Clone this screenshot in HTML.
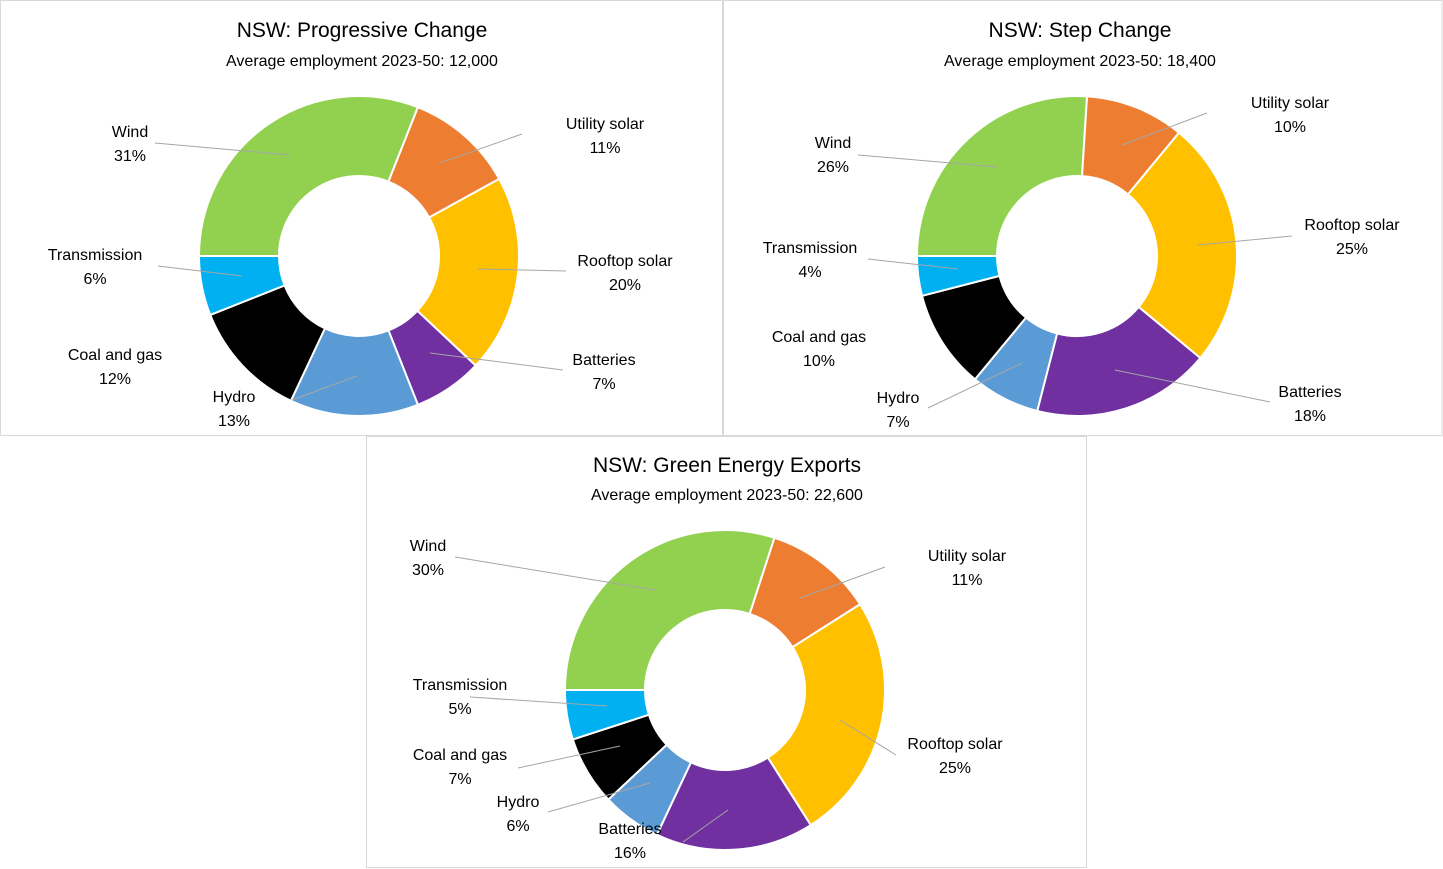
<!DOCTYPE html>
<html><head><meta charset="utf-8"><style>
html,body{margin:0;padding:0;background:#fff;}
svg{display:block;font-family:"Liberation Sans",Arial,sans-serif;}
</style></head><body>
<svg id="s" width="1443" height="869" viewBox="0 0 1443 869">
<rect x="0.5" y="0.5" width="722" height="435" fill="#fff" stroke="#d9d9d9"/>
<rect x="723.5" y="0.5" width="718.5" height="435" fill="#fff" stroke="#d9d9d9"/>
<rect x="366.5" y="436.5" width="720" height="431" fill="#fff" stroke="#d9d9d9"/>
</svg>
<script>
const categories=["Wind","Utility solar","Rooftop solar","Batteries","Hydro","Coal and gas","Transmission"];
const progressiveValues=[31,11,20,7,13,12,6];
const stepValues=[26,10,25,18,7,10,4];
const greenValues=[30,11,25,16,6,7,5];
const chartTitles=["NSW: Progressive Change","NSW: Step Change","NSW: Green Energy Exports"];
const chartSubtitles=["Average employment 2023-50: 12,000","Average employment 2023-50: 18,400","Average employment 2023-50: 22,600"];
const colors=["#92D050","#ED7D31","#FFC000","#7030A0","#5B9BD5","#000000","#00B0F0"];
const NS="http://www.w3.org/2000/svg";
const svg=document.getElementById('s');
const charts=[
 {vals:progressiveValues,cx:359,cy:256,tx:362,ty:29,sy:60,
  labels:[[130,143],[605,135],[625,272],[604,371],[234,408],[115,366],[95,266]],
  lines:[[155,143,290,155],[522,134,440,163],[566,271,478,269],[563,370,430,353],[292,400,357,376],null,[158,266,242,276]]},
 {vals:stepValues,cx:1077,cy:256,tx:1080,ty:29,sy:60,
  labels:[[833,154],[1290,114],[1352,236],[1310,403],[898,409],[819,348],[810,259]],
  lines:[[858,155,997,167],[1207,113,1122,145],[1292,236,1198,245],[1270,402,1115,370],[928,408,1022,363],null,[868,259,958,269]]},
 {vals:greenValues,cx:725,cy:690,tx:727,ty:464,sy:494,
  labels:[[428,557],[967,567],[955,755],[630,840],[518,813],[460,766],[460,696]],
  lines:[[455,557,655,590],[885,567,800,598],[896,755,840,720],[683,842,728,810],[548,812,650,783],[518,768,620,746],[470,697,607,706]]}
];
const R=160,r=80;
function pt(cx,cy,rad,deg){const a=deg*Math.PI/180;return [cx+rad*Math.sin(a),cy-rad*Math.cos(a)];}
function txt(x,y,s,size,name){const t=document.createElementNS(NS,'text');t.setAttribute('x',x);t.setAttribute('y',y);t.setAttribute('text-anchor','middle');t.setAttribute('font-size',size);t.setAttribute('fill','#000');t.textContent=s;


svg.appendChild(t);return t;}
charts.forEach((c,ci)=>{
 const total=c.vals.reduce((a,b)=>a+b,0);
 let ang=270;
 c.vals.forEach((v,i)=>{
  const sweep=v/total*360,a0=ang,a1=ang+sweep;ang=a1;
  const [x0,y0]=pt(c.cx,c.cy,R,a0),[x1,y1]=pt(c.cx,c.cy,R,a1),[x2,y2]=pt(c.cx,c.cy,r,a1),[x3,y3]=pt(c.cx,c.cy,r,a0);
  const lg=sweep>180?1:0;
  const p=document.createElementNS(NS,'path');
  p.setAttribute('d',`M${x0},${y0}A${R},${R} 0 ${lg} 1 ${x1},${y1}L${x2},${y2}A${r},${r} 0 ${lg} 0 ${x3},${y3}Z`);
  p.setAttribute('fill',colors[i]);p.setAttribute('stroke','#fff');p.setAttribute('stroke-width','2');
  
  
  svg.appendChild(p);
 });
 c.lines.forEach((l,i)=>{if(!l)return;const ln=document.createElementNS(NS,'line');
  ln.setAttribute('x1',l[0]);ln.setAttribute('y1',l[1]);ln.setAttribute('x2',l[2]);ln.setAttribute('y2',l[3]);
  ln.setAttribute('stroke','#a6a6a6');ln.setAttribute('stroke-width','1');
  
  
  svg.appendChild(ln);});
 c.labels.forEach((p,i)=>{
  txt(p[0],p[1]-6,categories[i],16,'data-label-category');
  txt(p[0],p[1]+18,c.vals[i]+'%',16,'data-label-value');
 });
 txt(c.tx,c.ty+8,chartTitles[ci],21,'chart-title');
 txt(c.tx,c.sy+6,chartSubtitles[ci],16,'chart-subtitle');
});
</script>
</body></html>
